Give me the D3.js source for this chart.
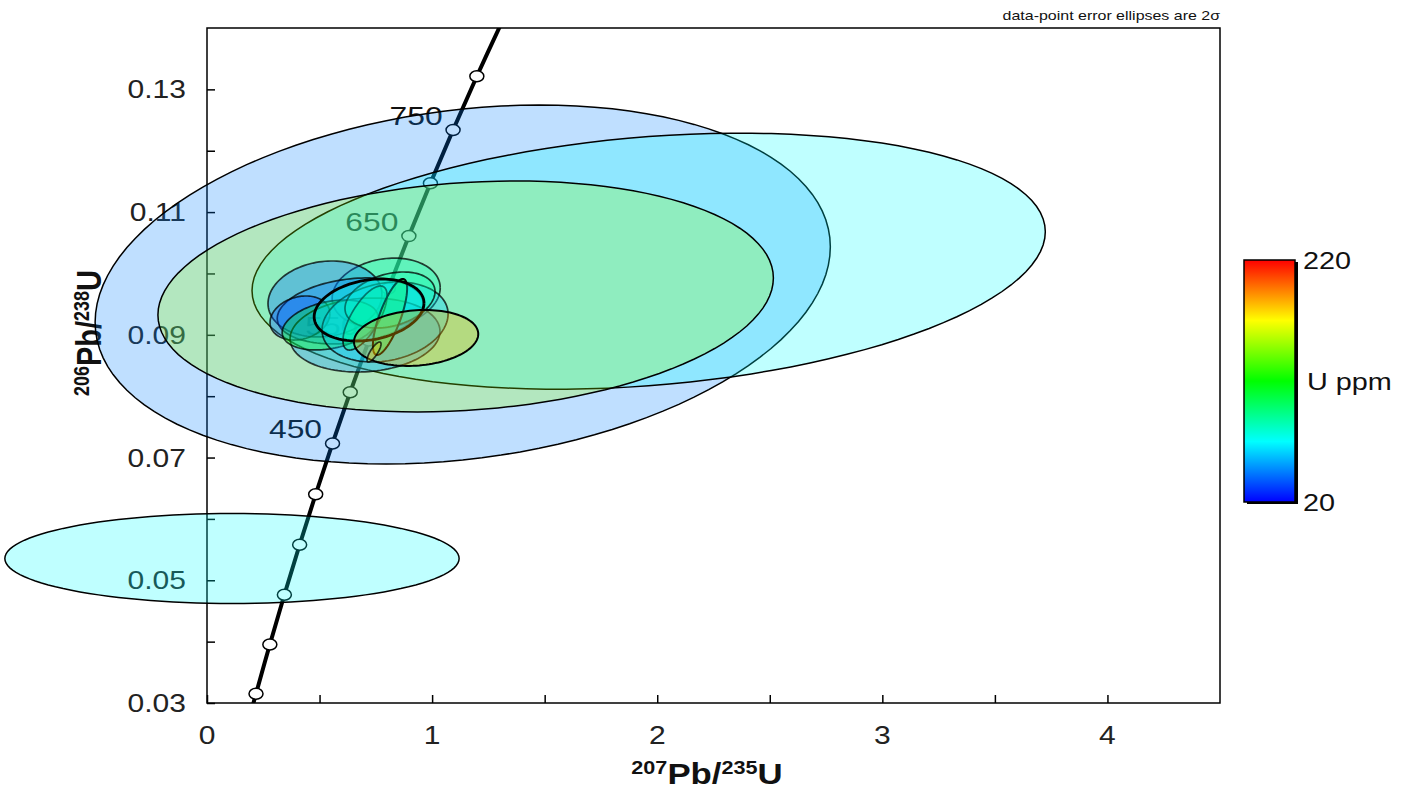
<!DOCTYPE html>
<html>
<head>
<meta charset="utf-8">
<script src="https://cdnjs.cloudflare.com/ajax/libs/d3/7.8.5/d3.min.js"></script>
<style>
  body { margin: 0; background: #fff; }
  text { font-family: "Liberation Sans", Arial, sans-serif; }
</style>
</head>
<body>
<svg id="chart" width="1410" height="792"></svg>
<script>
// axis ticks
var xTicks = [0, 1, 2, 3, 4];
var xMinor = [0.5, 1.5, 2.5, 3.5];
var yTicks = [0.03, 0.05, 0.07, 0.09, 0.11, 0.13];
var yMinor = [0.04, 0.06, 0.08, 0.10, 0.12];

// concordia (Ma)
var curveAges = [185, 200, 250, 300, 350, 400, 450, 500, 550, 600, 650, 700, 750, 800, 850];
var markerAges = [200, 250, 300, 350, 400, 450, 500, 550, 600, 650, 700, 750, 800];
var labelAges = [450, 550, 650, 750];

// error ellipses (2 sigma half widths), U ppm for colour
var ellX   = [1.136, 1.962, 1.149, 0.111, 0.796, 0.524, 0.636, 0.413, 0.702, 0.547, 0.791, 0.813, 0.702, 0.813, 0.720, 0.929, 0.742];
var ellErrX = [1.633, 1.762, 1.367, 1.009, 0.240, 0.253, 0.324, 0.133, 0.333, 0.213, 0.280, 0.200, 0.098, 0.076, 0.244, 0.276, 0.031];
var ellY   = [0.0982, 0.1020, 0.09625, 0.05355, 0.0968, 0.09584, 0.09389, 0.09274, 0.08997, 0.0916, 0.09209, 0.09568, 0.09274, 0.09291, 0.09405, 0.08949, 0.0872];
var ellErrY = [0.02925, 0.02086, 0.01882, 0.00733, 0.0057, 0.00619, 0.00538, 0.00359, 0.00603, 0.00407, 0.00652, 0.00456, 0.00522, 0.00619, 0.00505, 0.00456, 0.00163];
var ellRho = [0.21, 0.23, 0.16, 0.0, 0.15, 0.12, 0.23, 0.2, 0.1, 0.3, 0.2, 0.3, 0.7, 0.75, 0.22, 0.14, 0.8];
var ellU   = [45, 70, 148, 70, 85, 40, 45, 35, 50, 115, 60, 85, 100, 130, 75, 185, 180];

var uRange = [20, 220];

var lambda238 = 1.55125e-10, lambda235 = 9.8485e-10;

var margin = {left: 207, top: 28, right: 190, bottom: 89};
var width = 1410 - margin.left - margin.right;   // 1013
var height = 792 - margin.top - margin.bottom;   // 675
var stretch = 1.2;  // the original text is drawn a bit wide

var svg = d3.select("#chart");

var x = d3.scaleLinear().domain([0, 4.5]).range([margin.left, margin.left + width]);
var y = d3.scaleLinear().domain([0.03, 0.14]).range([margin.top + height, margin.top]);

var color = d3.scaleLinear()
  .domain([20, 70, 120, 170, 220])
  .range(["#0000ff", "#00ffff", "#00ff00", "#ffff00", "#ff0000"]);

function concordia(t) {
  return [Math.exp(lambda235 * t * 1e6) - 1, Math.exp(lambda238 * t * 1e6) - 1];
}

function wide(px, py) {
  return "translate(" + px + "," + py + ") scale(" + stretch + ",1)";
}

// clip for concordia
svg.append("clipPath").attr("id", "plotclip")
  .append("rect")
  .attr("x", margin.left).attr("y", margin.top)
  .attr("width", width).attr("height", height);

// axes (ticks inside)
var xAxis = svg.append("g")
  .attr("transform", "translate(0," + (margin.top + height) + ")")
  .call(d3.axisTop(x).tickValues(xTicks.concat(xMinor)).tickSize(8).tickFormat(""));
xAxis.select(".domain").remove();
xAxis.selectAll("line").attr("stroke", "#000").attr("stroke-width", 1.5);

var yAxis = svg.append("g")
  .attr("transform", "translate(" + margin.left + ",0)")
  .call(d3.axisRight(y).tickValues(yTicks.concat(yMinor)).tickSize(8).tickFormat(""));
yAxis.select(".domain").remove();
yAxis.selectAll("line").attr("stroke", "#000").attr("stroke-width", 1.5);

svg.append("g").selectAll("text")
  .data(xTicks).enter().append("text")
  .attr("transform", function(d){ return wide(x(d), 744); })
  .attr("text-anchor", "middle")
  .style("font-size", "25px")
  .style("fill", "#222")
  .text(function(d){ return d; });

svg.append("g").selectAll("text")
  .data(yTicks).enter().append("text")
  .attr("transform", function(d){ return wide(186, y(d)); })
  .attr("dy", "0.36em")
  .attr("text-anchor", "end")
  .style("font-size", "25px")
  .style("fill", "#222")
  .text(function(d){ return d.toFixed(2); });

svg.append("rect")
  .attr("x", margin.left).attr("y", margin.top)
  .attr("width", width).attr("height", height)
  .attr("fill", "none").attr("stroke", "#000").attr("stroke-width", 1.5);

// axis titles
var xt = svg.append("text")
  .attr("transform", wide(707, 784))
  .attr("text-anchor", "middle")
  .style("font-weight", "bold").style("font-size", "29px").style("fill", "#111");
xt.append("tspan").style("font-size", "18px").attr("dy", "-10").text("207");
xt.append("tspan").attr("dy", "10").text("Pb/");
xt.append("tspan").style("font-size", "18px").attr("dy", "-10").text("235");
xt.append("tspan").attr("dy", "10").text("U");

var yt = svg.append("text")
  .attr("transform", "translate(101,333) scale(" + stretch + ",1) rotate(-90)")
  .attr("text-anchor", "middle")
  .style("font-weight", "bold").style("font-size", "29px").style("fill", "#111");
yt.append("tspan").style("font-size", "18px").attr("dy", "-10").text("206");
yt.append("tspan").attr("dy", "10").text("Pb/");
yt.append("tspan").style("font-size", "18px").attr("dy", "-10").text("238");
yt.append("tspan").attr("dy", "10").text("U");

// concordia line
var cg = svg.append("g").attr("clip-path", "url(#plotclip)");
cg.append("path")
  .datum(curveAges.map(concordia))
  .attr("d", d3.line().x(function(d){ return x(d[0]); }).y(function(d){ return y(d[1]); }).curve(d3.curveCatmullRom))
  .attr("fill", "none").attr("stroke", "#000").attr("stroke-width", 4);

svg.append("g").selectAll("ellipse")
  .data(markerAges).enter().append("ellipse")
  .attr("cx", function(d){ return x(concordia(d)[0]); })
  .attr("cy", function(d){ return y(concordia(d)[1]); })
  .attr("rx", 7).attr("ry", 5.5)
  .attr("fill", "#fff").attr("stroke", "#000").attr("stroke-width", 1.5);

svg.append("g").selectAll("text")
  .data(labelAges).enter().append("text")
  .attr("transform", function(d){ return wide(x(concordia(d)[0]) - 37, y(concordia(d)[1]) - 15); })
  .attr("dy", "0.36em")
  .attr("text-anchor", "middle")
  .style("font-size", "26.5px").style("fill", "#111")
  .text(function(d){ return d; });

// error ellipses
function ellipsePoints(i) {
  var pts = [];
  var s = Math.sqrt(1 - ellRho[i] * ellRho[i]);
  for (var k = 0; k <= 120; k++) {
    var a = 2 * Math.PI * k / 120;
    pts.push([ellX[i] + ellErrX[i] * Math.cos(a),
              ellY[i] + ellErrY[i] * (ellRho[i] * Math.cos(a) + s * Math.sin(a))]);
  }
  return pts;
}
var heavyOutline = [14];
var darkOutline = [13, 15];
var eg = svg.append("g");
ellX.forEach(function(d, i){
  var big = i < 4;
  var p = eg.append("path")
    .datum(ellipsePoints(i))
    .attr("d", d3.line().x(function(q){ return x(q[0]); }).y(function(q){ return y(q[1]); }))
    .attr("fill", color(ellU[i]))
    .attr("fill-opacity", big ? 0.25 : 0.33)
    .attr("stroke", "#000");
  if (big) p.attr("stroke-width", 1.5);
  else if (heavyOutline.indexOf(i) >= 0) p.attr("stroke-width", 2.8);
  else if (darkOutline.indexOf(i) >= 0) p.attr("stroke-width", 2);
  else p.attr("stroke-width", 1.7).attr("stroke-opacity", 0.75);
});

// note
svg.append("text")
  .attr("transform", wide(1220, 20))
  .attr("text-anchor", "end")
  .style("font-size", "13.3px").style("fill", "#111")
  .text("data-point error ellipses are 2\u03c3");

// colour bar
var defs = svg.append("defs");
var grad = defs.append("linearGradient").attr("id", "ubar")
  .attr("x1", 0).attr("y1", 1).attr("x2", 0).attr("y2", 0);
color.domain().forEach(function(v){
  grad.append("stop")
    .attr("offset", (v - uRange[0]) / (uRange[1] - uRange[0]))
    .attr("stop-color", color(v));
});
var bar = {x: 1244, y: 260, w: 51, h: 242};
svg.append("rect").attr("x", bar.x + 3).attr("y", bar.y + 2).attr("width", bar.w).attr("height", bar.h).attr("fill", "#000");
svg.append("rect").attr("x", bar.x).attr("y", bar.y).attr("width", bar.w).attr("height", bar.h)
  .attr("fill", "url(#ubar)").attr("stroke", "#000").attr("stroke-width", 1.5);
var u = d3.scaleLinear().domain(uRange).range([bar.y + bar.h, bar.y]);
svg.append("g").selectAll("text")
  .data(uRange).enter().append("text")
  .attr("transform", function(d){ return wide(1303, u(d)); })
  .attr("dy", "0.36em")
  .style("font-size", "24px").style("fill", "#111")
  .text(function(d){ return d; });
svg.append("text")
  .attr("transform", wide(1307, bar.y + bar.h / 2))
  .attr("dy", "0.36em")
  .style("font-size", "24px").style("fill", "#111")
  .text("U ppm");
</script>
</body>
</html>
